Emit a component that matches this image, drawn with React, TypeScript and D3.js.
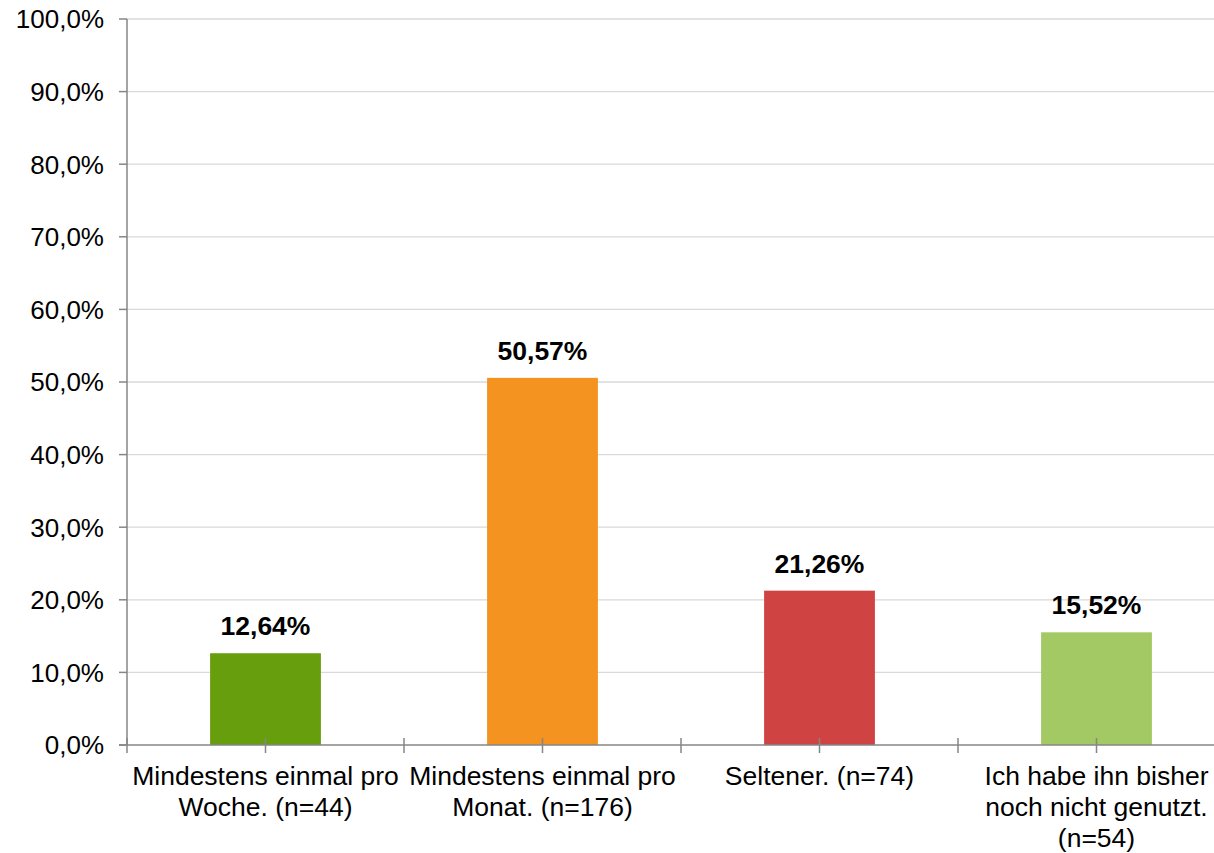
import React, { useEffect, useRef } from 'react';
import * as d3 from 'd3';

const categories = [
  'Mindestens einmal pro Woche. (n=44)',
  'Mindestens einmal pro Monat. (n=176)',
  'Seltener. (n=74)',
  'Ich habe ihn bisher noch nicht genutzt. (n=54)',
];
const values = [12.64, 50.57, 21.26, 15.52];
const barColors = ['#669E0D', '#F4931F', '#D04343', '#A2C964'];
const yTicks = [0, 10, 20, 30, 40, 50, 60, 70, 80, 90, 100];

const W = 1214;
const H = 853;
const FONT = 'Arial, "Liberation Sans", sans-serif';

export default function App() {
  const svgRef = useRef<SVGSVGElement>(null);

  useEffect(() => {
    if (!svgRef.current) return;
    const svg = d3.select(svgRef.current);
    svg.selectAll('*').remove();

    const left = 127;
    const top = 19;
    const bottom = 745;
    const bandW = 277;

    const x = d3
      .scaleBand<string>()
      .domain(categories)
      .range([left, left + bandW * categories.length])
      .paddingInner(0)
      .paddingOuter(0);
    const y = d3.scaleLinear().domain([0, 100]).range([bottom, top]);
    const barW = x.bandwidth() * 0.4;

    const fmtTick = (v: number) => v.toFixed(1).replace('.', ',') + '%';
    const fmtVal = (v: number) => v.toFixed(2).replace('.', ',') + '%';

    // gridlines
    svg
      .append('g')
      .selectAll('line')
      .data(yTicks.filter((t) => t > 0))
      .enter()
      .append('line')
      .attr('x1', left)
      .attr('x2', W)
      .attr('y1', (d) => y(d))
      .attr('y2', (d) => y(d))
      .attr('stroke', '#d9d9d9')
      .attr('stroke-width', 1.3);

    // bars
    svg
      .append('g')
      .selectAll('rect')
      .data(values)
      .enter()
      .append('rect')
      .attr('x', (d, i) => (x(categories[i]) as number) + (x.bandwidth() - barW) / 2)
      .attr('y', (d) => y(d))
      .attr('width', barW)
      .attr('height', (d) => bottom - y(d))
      .attr('fill', (d, i) => barColors[i]);

    // value labels
    svg
      .append('g')
      .selectAll('text')
      .data(values)
      .enter()
      .append('text')
      .attr('x', (d, i) => (x(categories[i]) as number) + x.bandwidth() / 2)
      .attr('y', (d) => y(d) - 18)
      .attr('text-anchor', 'middle')
      .style('font-family', FONT)
      .style('font-size', '26.5px')
      .style('font-weight', 'bold')
      .style('fill', '#000')
      .text((d) => fmtVal(d));

    // y axis
    const axisColor = '#868686';
    svg
      .append('line')
      .attr('x1', left)
      .attr('x2', left)
      .attr('y1', top)
      .attr('y2', bottom)
      .attr('stroke', axisColor)
      .attr('stroke-width', 1.5);
    svg
      .append('g')
      .selectAll('line')
      .data(yTicks)
      .enter()
      .append('line')
      .attr('x1', left - 8)
      .attr('x2', left)
      .attr('y1', (d) => y(d))
      .attr('y2', (d) => y(d))
      .attr('stroke', axisColor)
      .attr('stroke-width', 1.5);
    svg
      .append('g')
      .selectAll('text')
      .data(yTicks)
      .enter()
      .append('text')
      .attr('x', 104)
      .attr('y', (d) => y(d))
      .attr('dy', '0.36em')
      .attr('text-anchor', 'end')
      .style('font-family', FONT)
      .style('font-size', '26px')
      .style('fill', '#000')
      .text((d) => fmtTick(d));

    // x axis
    svg
      .append('line')
      .attr('x1', left - 8)
      .attr('x2', W)
      .attr('y1', bottom)
      .attr('y2', bottom)
      .attr('stroke', axisColor)
      .attr('stroke-width', 1.5);
    const boundaries = categories.map((c) => x(c) as number).concat([x.range()[1]]);
    const centers = categories.map((c) => (x(c) as number) + x.bandwidth() / 2);
    svg
      .append('g')
      .selectAll('line')
      .data(boundaries.concat(centers))
      .enter()
      .append('line')
      .attr('x1', (d) => d)
      .attr('x2', (d) => d)
      .attr('y1', bottom - 7)
      .attr('y2', bottom + 8)
      .attr('stroke', axisColor)
      .attr('stroke-width', 1.5);

    // category labels with wrapping
    const wrapW = 272;
    const labels = svg
      .append('g')
      .selectAll('text')
      .data(categories)
      .enter()
      .append('text')
      .attr('text-anchor', 'middle')
      .style('font-family', FONT)
      .style('font-size', '26.5px')
      .style('fill', '#000');

    labels.each(function (d) {
      const text = d3.select(this);
      const cx = (x(d) as number) + x.bandwidth() / 2;
      const words = d.split(' ');
      const lines: string[] = [];
      let line: string[] = [];
      const probe = text.append('tspan');
      words.forEach((w) => {
        const attempt = line.concat([w]).join(' ');
        probe.text(attempt);
        const len = (probe.node() as SVGTSpanElement).getComputedTextLength();
        if (len > wrapW && line.length) {
          lines.push(line.join(' '));
          line = [w];
        } else {
          line.push(w);
        }
      });
      if (line.length) lines.push(line.join(' '));
      probe.remove();
      lines.forEach((l, i) => {
        text
          .append('tspan')
          .attr('x', cx)
          .attr('y', 785 + i * 31)
          .text(l);
      });
    });
  }, []);

  return (
    <svg
      ref={svgRef}
      width={W}
      height={H}
      style={{ position: 'absolute', left: 0, top: 0, background: '#fff' }}
    />
  );
}
